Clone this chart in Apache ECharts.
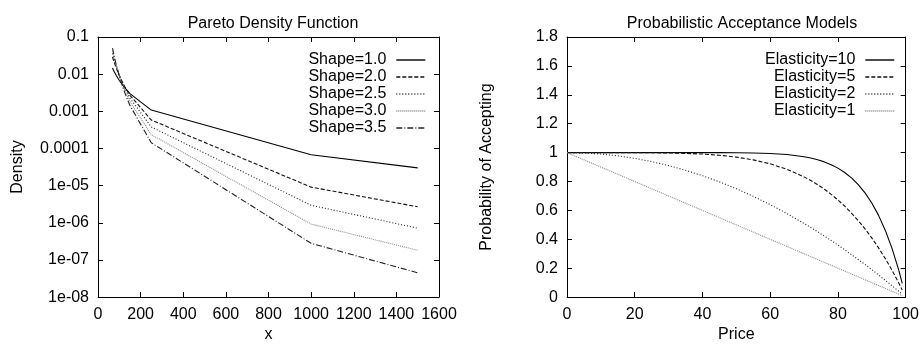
<!DOCTYPE html>
<html>
<head>
<meta charset="utf-8">
<script src="https://cdn.jsdelivr.net/npm/echarts@6/dist/echarts.min.js"></script>
<style>
  html, body { margin: 0; padding: 0; background: #fff; }
  #chart { width: 922px; height: 348px; }
</style>
</head>
<body>
<div id="chart"></div>
<script>
var paretoX = [68, 75, 85, 100, 125, 150, 250, 1000, 1500]
var shape10 = [0.0146, 0.0120, 0.00934, 0.00675, 0.00432, 0.0030, 0.00108, 6.75e-5, 3.0e-5]
var shape20 = [0.0290, 0.0216, 0.01484, 0.00911, 0.00467, 0.0027, 5.83e-4, 9.11e-6, 2.70e-6]
var shape25 = [0.0361, 0.0256, 0.01653, 0.00936, 0.00429, 0.00226, 3.79e-4, 2.96e-6, 7.16e-7]
var shape30 = [0.0431, 0.0291, 0.01768, 0.00923, 0.00378, 0.00182, 2.36e-4, 9.23e-7, 1.82e-7]
var shape35 = [0.0502, 0.0323, 0.01838, 0.00885, 0.00324, 0.001426, 1.43e-4, 2.80e-7, 4.51e-8]
var densityTicks = ['1e-08', '1e-07', '1e-06', '1e-05', '0.0001', '0.001', '0.01', '0.1']

// right panel: acceptance probability vs price
var price = [0, 5, 10, 15, 20, 25, 30, 35, 40, 45, 50, 55, 60, 65, 70, 72, 74, 76, 78, 80, 82, 84, 86, 88, 90, 92, 94, 96, 98, 99]
var elast10 = [1, 1, 1, 1, 1, 1, 1, 1, 0.9999, 0.9997, 0.999, 0.9975, 0.994, 0.9865, 0.9718, 0.9626, 0.9508, 0.9357, 0.9166, 0.8926, 0.8626, 0.8251, 0.7787, 0.7215, 0.6513, 0.5656, 0.4614, 0.3352, 0.1829, 0.0956]
var elast5 = [1, 1, 1, 0.9999, 0.9997, 0.999, 0.9976, 0.9948, 0.9898, 0.9816, 0.9688, 0.9497, 0.9222, 0.884, 0.8319, 0.8065, 0.7781, 0.7465, 0.7113, 0.6723, 0.6293, 0.5818, 0.5296, 0.4723, 0.4095, 0.3409, 0.2661, 0.1846, 0.0961, 0.049]
var elast2 = [1, 0.9975, 0.99, 0.9775, 0.96, 0.9375, 0.91, 0.8775, 0.84, 0.7975, 0.75, 0.6975, 0.64, 0.5775, 0.51, 0.4816, 0.4524, 0.4224, 0.3916, 0.36, 0.3276, 0.2944, 0.2604, 0.2256, 0.19, 0.1536, 0.1164, 0.0784, 0.0396, 0.0199]
var elast1 = [1, 0.95, 0.9, 0.85, 0.8, 0.75, 0.7, 0.65, 0.6, 0.55, 0.5, 0.45, 0.4, 0.35, 0.3, 0.28, 0.26, 0.24, 0.22, 0.2, 0.18, 0.16, 0.14, 0.12, 0.1, 0.08, 0.06, 0.04, 0.02, 0.01]

function pairs (xs, ys) {
  return xs.map(function (x, i) { return [x, ys[i]] })
}

var font = '"Liberation Sans", Arial, sans-serif'
var black = '#000'

function frameAxis (extra) {
  var base = {
    axisLine: { show: true, onZero: false, lineStyle: { color: black, width: 1 } },
    axisTick: { show: true, inside: true, length: 5, lineStyle: { color: black } },
    axisLabel: {
      color: black, fontFamily: font, fontSize: 16, margin: 9,
      formatter: function (v) { return String(v) }
    },
    splitLine: { show: false },
    nameTextStyle: { color: black, fontFamily: font, fontSize: 16 }
  }
  return Object.assign(base, extra)
}
function mirror (extra) {
  return frameAxis(Object.assign({ axisLabel: { show: false } }, extra))
}

function lineSeries (name, data, color, type, xi, yi) {
  return {
    name: name,
    type: 'line',
    xAxisIndex: xi,
    yAxisIndex: yi,
    data: data,
    symbol: 'none',
    smooth: false,
    animation: false,
    lineStyle: { color: color, width: 1.1, type: type },
    itemStyle: { color: color }
  }
}

var solid = 'solid'
var dashed = [4, 2]
var dotted = [1, 2]
var fine = [1, 1]
var dashDot = [6, 2, 1, 2]

var legendBase = {
  orient: 'vertical',
  align: 'right',
  top: 47,
  itemWidth: 29,
  itemHeight: 12,
  itemGap: 1,
  itemStyle: { opacity: 0 },
  lineStyle: { width: 1.4 },
  textStyle: { color: black, fontFamily: font, fontSize: 16, lineHeight: 16, padding: [0, 5, 0, 0] },
  inactiveColor: '#ccc'
}

var chart = echarts.init(document.getElementById('chart'), null, { renderer: 'canvas' })
chart.setOption({
  animation: false,
  backgroundColor: '#fff',
  title: [{
    text: 'Pareto Density Function',
    left: 268, top: 11, textAlign: 'center',
    textStyle: { color: black, fontFamily: font, fontSize: 16, fontWeight: 'normal' }
  }, {
    text: 'Probabilistic Acceptance Models',
    left: 737, top: 11, textAlign: 'center',
    textStyle: { color: black, fontFamily: font, fontSize: 16, fontWeight: 'normal' }
  }],
  legend: [
    Object.assign({}, legendBase, {
      right: 491,
      data: ['Shape=1.0', 'Shape=2.0', 'Shape=2.5', 'Shape=3.0', 'Shape=3.5']
    }),
    Object.assign({}, legendBase, {
      right: 22,
      data: ['Elasticity=10', 'Elasticity=5', 'Elasticity=2', 'Elasticity=1']
    })
  ],
  grid: [
    { left: 98, top: 37, width: 341, height: 273 },
    { left: 567, top: 37, width: 341, height: 273 }
  ],
  xAxis: [
    frameAxis({ type: 'value', gridIndex: 0, min: 0, max: 1600, interval: 200, name: 'x', nameLocation: 'middle', nameGap: 24 }),
    mirror({ type: 'value', gridIndex: 0, position: 'top', min: 0, max: 1600, interval: 200 }),
    frameAxis({ type: 'value', gridIndex: 1, min: 0, max: 100, interval: 20, name: 'Price', nameLocation: 'middle', nameGap: 24 }),
    mirror({ type: 'value', gridIndex: 1, position: 'top', min: 0, max: 100, interval: 20 })
  ],
  yAxis: [
    frameAxis({
      type: 'log', logBase: 10, gridIndex: 0, min: 1e-8, max: 0.1, interval: 1,
      name: 'Density', nameLocation: 'middle', nameGap: 72,
      axisLabel: {
        color: black, fontFamily: font, fontSize: 16, margin: 9,
        formatter: function (v) { return densityTicks[Math.round(Math.log10(v)) + 8] }
      }
    }),
    mirror({ type: 'log', logBase: 10, gridIndex: 0, position: 'right', min: 1e-8, max: 0.1, interval: 1 }),
    frameAxis({
      type: 'value', gridIndex: 1, min: 0, max: 1.8, interval: 0.2,
      name: 'Probability of Accepting', nameLocation: 'middle', nameGap: 72
    }),
    mirror({ type: 'value', gridIndex: 1, position: 'right', min: 0, max: 1.8, interval: 0.2 })
  ],
  series: [
    lineSeries('Shape=1.0', pairs(paretoX, shape10), '#000', solid, 0, 0),
    lineSeries('Shape=2.0', pairs(paretoX, shape20), '#111', dashed, 0, 0),
    lineSeries('Shape=2.5', pairs(paretoX, shape25), '#222', dotted, 0, 0),
    lineSeries('Shape=3.0', pairs(paretoX, shape30), '#888', fine, 0, 0),
    lineSeries('Shape=3.5', pairs(paretoX, shape35), '#222', dashDot, 0, 0),
    lineSeries('Elasticity=10', pairs(price, elast10), '#000', solid, 2, 2),
    lineSeries('Elasticity=5', pairs(price, elast5), '#111', dashed, 2, 2),
    lineSeries('Elasticity=2', pairs(price, elast2), '#222', dotted, 2, 2),
    lineSeries('Elasticity=1', pairs(price, elast1), '#888', fine, 2, 2)
  ]
})
</script>
</body>
</html>
